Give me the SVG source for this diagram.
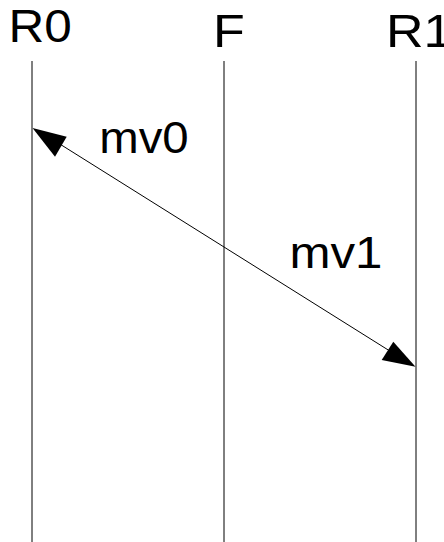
<svg xmlns="http://www.w3.org/2000/svg" width="444" height="542" viewBox="0 0 444 542">
<style>
.t{font-family:"Liberation Sans",Arial,sans-serif;fill:#000}
.big{font-size:46px}
.lbl{font-size:43.5px}
.life{stroke:#000;stroke-width:1;fill:none}
.msg{stroke:#000;stroke-width:1;fill:none}
.head{fill:#000;stroke:none}
</style>
<g id="R0"><line class="life" x1="32" y1="61" x2="32" y2="542"/><text class="t big" x="8.4" y="41.5" textLength="63.3" lengthAdjust="spacingAndGlyphs">R0</text></g>
<g id="F"><line class="life" x1="224" y1="61" x2="224" y2="542"/><text class="t big" x="213" y="46.7" textLength="31.8" lengthAdjust="spacingAndGlyphs">F</text></g>
<g id="R1"><line class="life" x1="416" y1="61" x2="416" y2="542"/><text class="t big" x="385.9" y="46.7" textLength="66.5" lengthAdjust="spacingAndGlyphs">R1</text></g>
<g id="connectors">
<line class="msg" x1="55" y1="141" x2="393" y2="353"/>
<polygon class="head" points="32.5,128 66.7,136.7 55,156.7"/>
<polygon class="head" points="415.5,366.7 393.3,341.7 381.7,360"/>
<text class="t lbl" x="99.2" y="153" textLength="89.5" lengthAdjust="spacingAndGlyphs">mv0</text>
<text class="t lbl" x="289.5" y="267.5" textLength="93" lengthAdjust="spacingAndGlyphs">mv1</text>
</g>
</svg>
